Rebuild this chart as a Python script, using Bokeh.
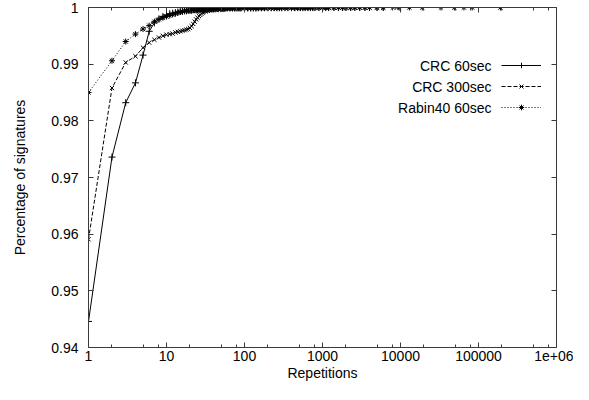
from bokeh.plotting import figure
from bokeh.models import (Range1d, LogAxis, LinearAxis, FixedTicker,
                          CustomJSTickFormatter, Label, Legend, LegendItem)
from bokeh.embed import file_html
from bokeh.resources import INLINE

# ---------------- data ----------------
# shared repetition counts (x)
reps = [1, 2, 3, 4, 5, 6, 7, 8, 9, 10,
        11, 12, 13, 14, 15, 16, 17, 18, 19, 20,
        21, 22, 23, 24, 25, 26, 27, 28, 29, 30,
        32, 34, 36, 38, 40,
        43, 46, 50, 53, 56,
        60, 65, 70, 75, 80,
        85, 90, 100, 110, 120,
        130, 140, 150, 165, 180,
        200, 220, 240, 260, 280,
        300, 330, 360, 400, 440,
        480, 520, 560, 600, 650,
        700, 750, 800, 900, 1000,
        1100, 1200, 1400, 1600, 1800,
        2000, 2300, 2600, 3000, 3500,
        4000, 5000, 6000]

crc60_pct = [0.9446, 0.9736, 0.9832, 0.9867, 0.9916, 0.9958, 0.9973, 0.9980, 0.9984, 0.9987,
             0.9989, 0.9990, 0.9991, 0.9992, 0.9993, 0.9993, 0.9994, 0.9994, 0.9995, 0.9995,
             0.9995, 0.9996, 0.9996, 0.9996, 0.9996, 0.9997, 0.9997, 0.9997, 0.9997, 0.9997,
             0.9997, 0.9997, 0.9998, 0.9998, 0.9998,
             0.9998, 0.9998, 0.9998, 0.9998, 0.9999,
             0.9999, 0.9999, 0.9999, 0.9999, 0.9999,
             0.9999, 0.9999, 0.9999, 0.9999, 0.9999,
             0.9999, 0.9999, 0.99995, 0.99995, 0.99995,
             0.99995, 0.99995, 0.99996, 0.99996, 0.99996,
             0.99996, 0.99997, 0.99997, 0.99997, 0.99997,
             0.99998, 0.99998, 0.99998, 0.99998, 0.99998,
             0.99998, 0.99999, 0.99999, 0.99999, 0.99999,
             0.99999, 0.99999, 0.99999, 0.99999, 0.99999,
             1.0, 1.0, 1.0, 1.0, 1.0,
             1.0, 1.0, 1.0]

crc300_reps_extra = [8000, 9000]
crc300_pct = [0.9591, 0.9858, 0.9903, 0.9914, 0.9929, 0.9938, 0.9943, 0.9947, 0.9950, 0.9952,
              0.9953, 0.9954, 0.9956, 0.9957, 0.9958, 0.9959, 0.9960, 0.9961, 0.9962, 0.9964,
              0.9967, 0.9971, 0.9975, 0.9979, 0.9982, 0.9985, 0.9987, 0.9989, 0.9991, 0.9992,
              0.9993, 0.9994, 0.9995, 0.9995, 0.9996,
              0.9996, 0.9997, 0.9997, 0.9997, 0.9998,
              0.9998, 0.9998, 0.9998, 0.9998, 0.9998,
              0.9999, 0.9999, 0.9999, 0.9999, 0.9999,
              0.9999, 0.9999, 0.9999, 0.9999, 0.9999,
              0.99995, 0.99995, 0.99995, 0.99995, 0.99996,
              0.99996, 0.99996, 0.99997, 0.99997, 0.99997,
              0.99997, 0.99998, 0.99998, 0.99998, 0.99998,
              0.99998, 0.99998, 0.99999, 0.99999, 0.99999,
              0.99999, 0.99999, 0.99999, 0.99999, 0.99999,
              0.99999, 0.99999, 1.0, 1.0, 1.0,
              1.0, 1.0, 1.0,
              1.0, 1.0]

rabin_reps_extra = [9600, 13000, 19000, 33000, 49000, 65000, 83000, 191000]
rabin_pct = [0.9850, 0.9906, 0.9940, 0.9953, 0.9962, 0.9968, 0.9975, 0.9979, 0.9982, 0.9984,
             0.9986, 0.9988, 0.9989, 0.9991, 0.9992, 0.9993, 0.9994, 0.9994, 0.9995, 0.9995,
             0.9996, 0.9996, 0.9996, 0.9996, 0.9996, 0.9997, 0.9997, 0.9997, 0.9997, 0.9997,
             0.9997, 0.9997, 0.9997, 0.9998, 0.9998,
             0.9998, 0.9998, 0.9998, 0.9998, 0.9998,
             0.9999, 0.9999, 0.9999, 0.9999, 0.9999,
             0.9999, 0.9999, 0.9999, 0.9999, 0.9999,
             0.9999, 0.9999, 0.99995, 0.99995, 0.99995,
             0.99995, 0.99996, 0.99996, 0.99996, 0.99996,
             0.99997, 0.99997, 0.99997, 0.99997, 0.99997,
             0.99997, 0.99998, 0.99998, 0.99998, 0.99998,
             0.99998, 0.99998, 0.99998, 0.99998, 0.99998,
             0.99999, 0.99999, 0.99999, 0.99999, 0.99999,
             0.99999, 0.99999, 0.99999, 0.99999, 0.99999,
             0.99999, 0.99999, 0.99999,
             0.99999, 1.0, 1.0, 1.0, 1.0, 1.0, 1.0, 1.0]

series_names = ["CRC 60sec", "CRC 300sec", "Rabin40 60sec"]

x_major = [1, 10, 100, 1000, 10000, 100000, 1000000]
x_minor = [2, 5, 8, 20, 50, 80, 200, 500, 800, 2000, 5000, 8000,
           20000, 50000, 80000, 200000, 500000, 800000]
y_major = [0.94, 0.95, 0.96, 0.97, 0.98, 0.99, 1.0]

crc300_reps = reps + crc300_reps_extra
rabin_reps = reps + rabin_reps_extra

# ---------------- figure ----------------
FONT = "Liberation Sans"
FW, FH = 468, 340

p = figure(frame_width=FW, frame_height=FH, x_axis_type="log",
           x_range=Range1d(1, 1e6), y_range=Range1d(0.94, 1.0),
           output_backend="svg", toolbar_location=None,
           min_border_left=88, min_border_right=17,
           min_border_top=7, min_border_bottom=37)
p.grid.visible = False
p.outline_line_color = None
p.background_fill_color = "white"
p.border_fill_color = "white"

AX_COLOR = "#3a3a3a"


def style(ax):
    ax.axis_line_color = AX_COLOR
    ax.axis_line_width = 1
    ax.major_tick_line_color = AX_COLOR
    ax.minor_tick_line_color = AX_COLOR
    ax.major_tick_in = 5
    ax.major_tick_out = 0
    ax.minor_tick_in = 3
    ax.minor_tick_out = 0
    ax.major_label_text_font = FONT
    ax.major_label_text_font_size = "14px"
    ax.major_label_text_color = "black"
    ax.axis_label_text_font = FONT
    ax.axis_label_text_font_style = "normal"
    ax.axis_label_text_font_size = "14px"
    ax.axis_label_text_color = "black"


xfmt = CustomJSTickFormatter(code="return tick >= 999999 ? '1e+06' : String(Math.round(tick));")
yfmt = CustomJSTickFormatter(code="return tick >= 0.99999 ? '1' : tick.toFixed(2);")
blank = CustomJSTickFormatter(code="return '';")

xb = p.xaxis[0]
xb.ticker = FixedTicker(ticks=x_major, minor_ticks=x_minor)
xb.formatter = xfmt
xb.axis_label = "Repetitions"
style(xb)
xb.major_label_standoff = 3
xb.axis_label_standoff = 1

yl = p.yaxis[0]
yl.ticker = FixedTicker(ticks=y_major, minor_ticks=[])
yl.formatter = yfmt
yl.axis_label = "Percentage of signatures"
style(yl)
yl.major_label_standoff = 10
yl.axis_label_standoff = 20

xt = LogAxis(ticker=FixedTicker(ticks=x_major, minor_ticks=x_minor), formatter=blank)
style(xt)
xt.major_label_standoff = 0
p.add_layout(xt, "above")

yr = LinearAxis(ticker=FixedTicker(ticks=y_major, minor_ticks=[]), formatter=blank)
style(yr)
yr.major_label_standoff = 0
p.add_layout(yr, "right")

# ---------------- series ----------------
l1 = p.line(reps, crc60_pct, line_color="black", line_width=1)
m1 = p.scatter(reps, crc60_pct, marker="cross", size=7, line_color="black",
               fill_color=None, line_width=1)

l2 = p.line(crc300_reps, crc300_pct, line_color="black", line_width=1, line_dash="4 2")
m2 = p.scatter(crc300_reps, crc300_pct, marker="x", size=6, line_color="black",
               fill_color=None, line_width=1)

l3 = p.line(rabin_reps, rabin_pct, line_color="black", line_width=1, line_dash="1 2")
m3 = p.scatter(rabin_reps, rabin_pct, marker="asterisk", size=6, line_color="black",
               fill_color=None, line_width=1)

# ---------------- legend (gnuplot style: text left of sample) ----------------
row_offsets = [58, 79, 100]  # px below frame top
items = [LegendItem(label=" ", renderers=[l1, m1]),
         LegendItem(label=" ", renderers=[l2, m2]),
         LegendItem(label=" ", renderers=[l3, m3])]
leg = Legend(items=items, location=(FW - 55, FH - 109), glyph_width=40, glyph_height=14,
             label_height=18, label_width=1, spacing=3, padding=0, margin=0,
             label_standoff=0, label_text_font_size="14px",
             border_line_color=None, background_fill_alpha=0)
p.add_layout(leg)

for name, off in zip(series_names, row_offsets):
    p.add_layout(Label(x=FW - 65, y=FH - off, x_units="screen", y_units="screen",
                       text=name, text_align="right", text_baseline="middle",
                       text_font=FONT, text_font_size="14px", text_color="black"))

open("out.html", "w").write(file_html(p, INLINE))
